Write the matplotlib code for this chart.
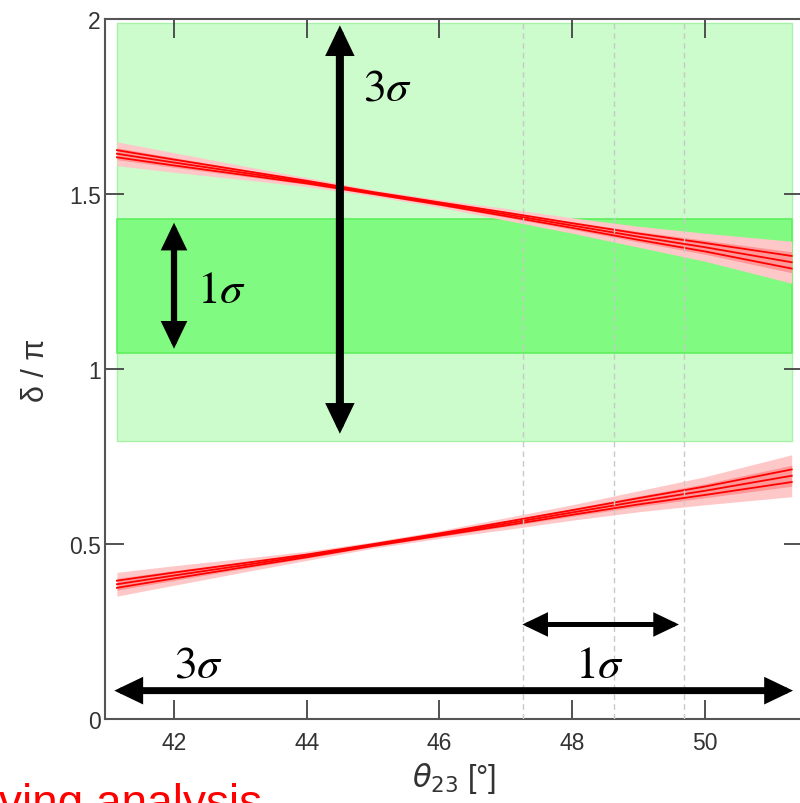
import numpy as np
import matplotlib.pyplot as plt
from matplotlib.patches import FancyArrowPatch, ArrowStyle

plt.rcParams['font.family'] = ['Liberation Sans', 'DejaVu Sans']

# valores
theta = [41.14, 42, 43, 44, 45, 46, 47, 48, 49, 50, 51.31]
delta_baixo = [0.385, 0.41, 0.438, 0.466, 0.497, 0.527, 0.558, 0.590, 0.622, 0.652, 0.695]
largura = [0.034, 0.028, 0.02, 0.013, 0.009, 0.011, 0.017, 0.022, 0.03, 0.04, 0.06]

faixa_x = [41.14, 51.31]
faixa_3sigma = [0.795, 1.988]
faixa_1sigma = [1.046, 1.429]
linhas_tracejadas = [47.26, 48.63, 49.68]

# setas: (x0, y0, x1, y1, espessura)
setas = [
    (44.5, 0.815, 44.5, 1.982, 5.8),
    (42.0, 1.058, 42.0, 1.418, 4.5),
    (47.25, 0.27, 49.61, 0.27, 3.6),
    (41.10, 0.081, 51.33, 0.081, 5.0),
]
rotulos = [
    (r'$3\sigma$', 44.85, 1.771),
    (r'$1\sigma$', 42.35, 1.191),
    (r'$3\sigma$', 42.0, 0.12),
    (r'$1\sigma$', 48.04, 0.12),
]

fig = plt.figure(figsize=(8, 8.04), dpi=100)
ax = fig.add_axes([0.13125, 0.1045, 0.8725, 0.8706])

# faixas verdes
ax.fill_between(faixa_x, faixa_3sigma[0], faixa_3sigma[1], facecolor='#ccfccc',
                edgecolor='#a8f2a8', lw=1, zorder=1)
ax.fill_between(faixa_x, faixa_1sigma[0], faixa_1sigma[1], facecolor='#80fa80',
                edgecolor='#5ef05e', lw=1.2, zorder=2)

# curvas vermelhas (delta e 2 - delta)
x = np.array(theta)
d = np.array(delta_baixo)
w = np.array(largura)
for c in (d, 2 - d):
    ax.fill_between(x, c - w, c + w, color='#ffc8c8', lw=0, zorder=3)
    ax.fill_between(x, c - 0.5 * w, c + 0.5 * w, color='#ff9898', lw=0, zorder=3)
    for k in (-0.3, 0.0, 0.3):
        ax.plot(x, c + k * w, color='red', lw=1.3, zorder=4)

for xv in linhas_tracejadas:
    ax.axvline(xv, color='#c8c8c8', lw=1, ls=(0, (4, 3)), zorder=5)

for x0, y0, x1, y1, lw in setas:
    seta = FancyArrowPatch((x0, y0), (x1, y1),
                           arrowstyle=ArrowStyle('<|-|>', head_length=12.5, head_width=6),
                           mutation_scale=1, lw=lw, color='black',
                           shrinkA=0, shrinkB=0, zorder=6)
    seta.set_joinstyle('miter')
    ax.add_patch(seta)

for txt, xt, yt in rotulos:
    ax.text(xt, yt, txt, fontsize=33, math_fontfamily='stix',
            ha='left', va='baseline', zorder=7)

ax.set_xlim(40.96, 51.48)
ax.set_ylim(0, 2)
ax.set_xticks([42, 44, 46, 48, 50])
ax.set_yticks([0, 0.5, 1, 1.5, 2])
ax.set_yticklabels(['0', '0.5', '1', '1.5', '2'])
ax.tick_params(direction='in', length=14, width=1.3, top=True, right=True,
               color='#444444', labelsize=16.5, labelcolor='#333333')
ax.tick_params(axis='x', pad=9)
ax.tick_params(axis='y', pad=3)
for s in ax.spines.values():
    s.set_color('#555555')
    s.set_linewidth(1.5)

ax.set_xlabel(r'$\theta_{23}$ [°]', fontsize=22, color='#333333',
              math_fontfamily='dejavusans')
ax.xaxis.set_label_coords(0.5, -0.058)
ax.set_ylabel('δ / π', fontsize=22, color='#333333')
ax.yaxis.set_label_coords(-0.078, 0.5)

fig.text(0.3275, -0.016, 'ving analysis', color='red', fontsize=33,
         ha='right', va='baseline')

fig.savefig('out.png', dpi=100)
